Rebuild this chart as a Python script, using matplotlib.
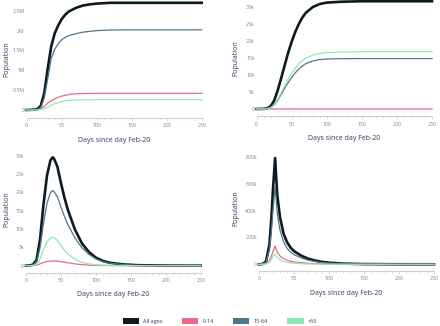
import matplotlib
matplotlib.use("Agg")
import matplotlib.pyplot as plt
from matplotlib.patches import Patch
from matplotlib.ticker import MultipleLocator

plt.rcParams['font.family'] = ['Open Sans', 'DejaVu Sans']

# ---------------- data ----------------
series_names = ["All ages", "0-14", "15-64", ">65"]
series_colors = ["#0d1a22", "#ec6a84", "#4f7788", "#8de8b8"]

# Panel 1: cumulative cases (millions)
p1_days = [0, 10, 15, 20, 25, 30, 35, 40, 45, 50, 55, 60, 70, 80, 90, 100, 120, 150, 200, 250]
p1_all = [0, 0.008, 0.02, 0.10, 0.42, 1.04, 1.60, 1.93, 2.13, 2.29, 2.40, 2.48, 2.57, 2.63, 2.66, 2.68, 2.70, 2.70, 2.70, 2.70]
p1_014 = [0, 0.002, 0.005, 0.03, 0.09, 0.17, 0.23, 0.28, 0.32, 0.35, 0.37, 0.39, 0.41, 0.415, 0.418, 0.42, 0.42, 0.42, 0.42, 0.42]
p1_1564 = [0, 0.005, 0.013, 0.06, 0.30, 0.78, 1.30, 1.53, 1.67, 1.77, 1.83, 1.87, 1.92, 1.96, 1.98, 2.00, 2.015, 2.02, 2.02, 2.02]
p1_65 = [0, 0.001, 0.002, 0.01, 0.03, 0.07, 0.12, 0.16, 0.19, 0.21, 0.23, 0.24, 0.25, 0.255, 0.258, 0.26, 0.26, 0.26, 0.26, 0.26]

# Panel 2: cumulative deaths (thousands)
p2_days = [0, 10, 15, 20, 25, 30, 35, 40, 45, 50, 55, 60, 65, 70, 80, 90, 100, 120, 150, 200, 250]
p2_all = [0, 0.05, 0.2, 0.8, 2.5, 5.5, 9.1, 12.9, 16.6, 19.8, 22.6, 24.9, 26.8, 28.2, 29.9, 30.8, 31.2, 31.45, 31.6, 31.6, 31.6]
p2_014 = [0, 0, 0.001, 0.005, 0.008, 0.01, 0.012, 0.015, 0.018, 0.02, 0.022, 0.024, 0.026, 0.028, 0.03, 0.03, 0.03, 0.03, 0.03, 0.03, 0.03]
p2_1564 = [0, 0.02, 0.1, 0.4, 1.2, 2.6, 4.3, 6.1, 7.8, 9.3, 10.6, 11.7, 12.6, 13.3, 14.1, 14.5, 14.65, 14.75, 14.8, 14.8, 14.8]
p2_65 = [0, 0.03, 0.1, 0.4, 1.3, 2.9, 4.8, 6.8, 8.8, 10.5, 12.0, 13.2, 14.2, 14.9, 15.8, 16.3, 16.55, 16.7, 16.8, 16.8, 16.8]

# Panel 3: daily (thousands)
p3_days = [0, 5, 10, 15, 20, 25, 30, 35, 38, 40, 45, 50, 55, 60, 70, 80, 90, 100, 110, 120, 140, 160, 200, 250]
p3_all = [0, 0.05, 0.3, 1.5, 7.0, 16.7, 24.6, 28.8, 29.6, 29.3, 27.0, 22.6, 18.6, 15.2, 9.9, 6.1, 3.75, 2.2, 1.3, 0.8, 0.34, 0.14, 0.02, 0]
p3_014 = [0, 0.01, 0.03, 0.15, 0.5, 0.9, 1.15, 1.25, 1.3, 1.3, 1.25, 1.1, 0.95, 0.8, 0.5, 0.3, 0.15, 0.08, 0.05, 0.03, 0.01, 0, 0, 0]
p3_1564 = [0, 0.03, 0.2, 1.0, 4.8, 11.5, 17.0, 20.0, 20.5, 20.3, 18.8, 16.0, 13.5, 11.2, 7.6, 4.9, 3.1, 1.85, 1.1, 0.7, 0.3, 0.13, 0.02, 0]
p3_65 = [0, 0.01, 0.07, 0.35, 1.7, 4.3, 6.5, 7.6, 7.8, 7.7, 6.9, 5.5, 4.2, 3.2, 1.8, 0.9, 0.5, 0.25, 0.15, 0.08, 0.03, 0.01, 0, 0]

# Panel 4: daily cases (thousands)
p4_days = [0, 5, 10, 15, 18, 20, 23, 26, 30, 35, 40, 45, 50, 60, 70, 80, 90, 100, 120, 150, 200, 250]
p4_all = [0, 2, 20, 150, 370, 560, 790, 520, 350, 230, 165, 125, 98, 65, 42, 28, 18, 12, 5, 1.5, 0.3, 0]
p4_014 = [0, 0.3, 4, 26, 65, 95, 135, 90, 62, 42, 31, 23, 18, 12, 8, 5, 3.3, 2.2, 0.9, 0.3, 0.05, 0]
p4_1564 = [0, 1.5, 14, 108, 265, 405, 580, 380, 255, 168, 120, 91, 72, 48, 31, 21, 13.5, 9, 3.8, 1.1, 0.2, 0]
p4_65 = [0, 0.2, 2, 16, 40, 60, 75, 50, 33, 20, 14, 11, 8, 5, 3, 2, 1.2, 0.8, 0.3, 0.1, 0.05, 0]

p1_yticks = [0, 0.5, 1, 1.5, 2, 2.5]
p1_yticklabels = ["0", "0.5M", "1M", "1.5M", "2M", "2.5M"]
p2_yticks = [0, 5, 10, 15, 20, 25, 30]
p2_yticklabels = ["0", "5k", "10k", "15k", "20k", "25k", "30k"]
p3_yticks = [0, 5, 10, 15, 20, 25, 30]
p3_yticklabels = ["0", "5k", "10k", "15k", "20k", "25k", "30k"]
p4_yticks = [0, 200, 400, 600, 800]
p4_yticklabels = ["0", "200k", "400k", "600k", "800k"]
xticks = [0, 50, 100, 150, 200, 250]

xlabel = "Days since day Feb-20"
ylabel = "Population"

# ---------------- layout ----------------
W, H = 440, 326
fig = plt.figure(figsize=(W / 100, H / 100), dpi=100)
fig.patch.set_facecolor("white")

LABEL_C = "#2a3f5f"
TICK_C = "#77808c"
AXIS_C = "#d0d0d0"

# (left, right, top, bottom, zero_px, px_per_unit, ylabel_x_px)
layouts = [
    (26.7, 201.7, 0, 117.7, 110.0, 39.7, 6.5),
    (256.7, 432.0, 0, 116.0, 109.0, 3.41, 236.0),
    (26.0, 200.7, 146, 272.5, 265.7, 3.66, 6.5),
    (259.0, 434.0, 146, 270.7, 264.3, 0.1345, 236.0),
]

panels = [
    (p1_days, [p1_all, p1_014, p1_1564, p1_65], p1_yticks, p1_yticklabels),
    (p2_days, [p2_all, p2_014, p2_1564, p2_65], p2_yticks, p2_yticklabels),
    (p3_days, [p3_all, p3_014, p3_1564, p3_65], p3_yticks, p3_yticklabels),
    (p4_days, [p4_all, p4_014, p4_1564, p4_65], p4_yticks, p4_yticklabels),
]

for (l, r, t, b, z, ppu, ylx), (days, ys, yt, ytl) in zip(layouts, panels):
    ax = fig.add_axes([l / W, 1 - b / H, (r - l) / W, (b - t) / H])
    ax.set_xlim(0, 250)
    ax.set_ylim(-(b - z) / ppu, (z - t) / ppu)
    for i, (y, c) in enumerate(zip(ys, series_colors)):
        ax.plot(days, y, color=c, lw=1.9 if i == 0 else 0.9,
                solid_joinstyle="round", clip_on=False, zorder=2 + i)
    for s in ["top", "right", "left"]:
        ax.spines[s].set_visible(False)
    ax.spines["bottom"].set_color(AXIS_C)
    ax.spines["bottom"].set_linewidth(0.8)
    ax.set_xticks(xticks)
    ax.set_xticklabels([str(v) for v in xticks])
    ax.xaxis.set_minor_locator(MultipleLocator(10))
    ax.tick_params(axis="x", which="major", length=2.5, width=0.6, color=AXIS_C,
                   labelsize=3.7, labelcolor=TICK_C, pad=1.5)
    ax.tick_params(axis="x", which="minor", length=1.5, width=0.5, color=AXIS_C)
    ax.set_yticks(yt)
    ax.set_yticklabels(ytl)
    ax.tick_params(axis="y", length=0, labelsize=3.7, labelcolor=TICK_C, pad=1.5)
    ax.set_xlabel(xlabel, fontsize=5, color=LABEL_C, labelpad=6)
    ax.set_ylabel(ylabel, fontsize=5, color=LABEL_C, va="center")
    ax.yaxis.set_label_coords((ylx - l) / (r - l), 0.5)
    ax.patch.set_alpha(0)

handles = [Patch(facecolor=c, edgecolor="none", label=n) for n, c in zip(series_names, series_colors)]
fig.legend(handles=handles, loc="center", bbox_to_anchor=(0.5, 1 - 320.7 / H), ncol=4,
           frameon=False, fontsize=4, handlelength=2.9, handleheight=1.3,
           handletextpad=0.8, columnspacing=3.5, labelcolor=LABEL_C)

fig.savefig("out.png", dpi=100)
